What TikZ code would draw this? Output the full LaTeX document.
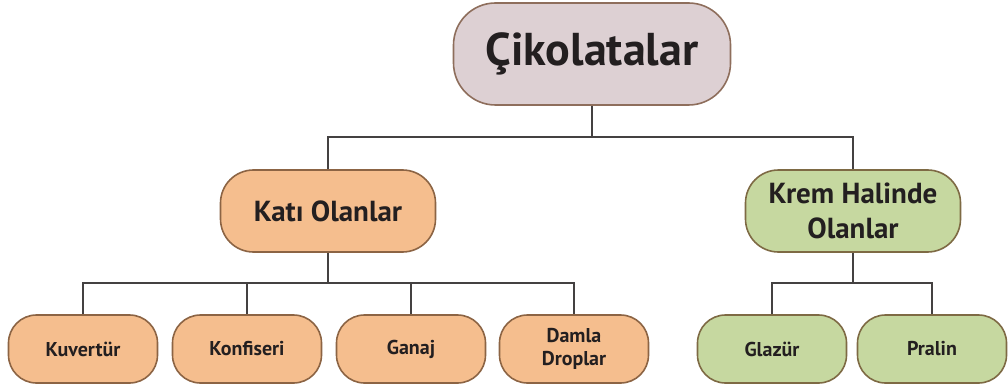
\documentclass[tikz,border=0pt]{standalone}
\usepackage{fontspec}
\setmainfont{PT Sans}
\usepackage{tikz}
\usetikzlibrary{positioning}
\definecolor{topfill}{HTML}{DDD0D3}
\definecolor{topdraw}{HTML}{8E6E5C}
\definecolor{solidfill}{HTML}{F5BE8E}
\definecolor{soliddraw}{HTML}{8C6444}
\definecolor{creamfill}{HTML}{C6D8A0}
\definecolor{creamdraw}{HTML}{7E6A44}
\definecolor{inkcol}{HTML}{231F20}

\begin{document}
\begin{tikzpicture}[x=1pt, y=1pt, line width=1.6pt, font=\bfseries, text=inkcol]
\tikzstyle{every node}=[align=center, inner sep=2pt]
\tikzstyle{rootbox}=[draw=topdraw, fill=topfill, rounded corners=42pt,
                    minimum width=277pt, minimum height=102pt, font=\bfseries\fontsize{46}{50}\selectfont]
\tikzstyle{groupbox}=[rounded corners=33pt, minimum width=215pt, minimum height=82pt,
                    font=\bfseries\fontsize{29}{35}\selectfont]
\tikzstyle{leafbox}=[rounded corners=28pt, minimum width=149pt, minimum height=68pt,
                    font=\bfseries\fontsize{20}{23}\selectfont]
\tikzstyle{solid}=[draw=soliddraw, fill=solidfill]
\tikzstyle{cream}=[draw=creamdraw, fill=creamfill]
\tikzstyle{link}=[draw=inkcol!85, line width=1.5pt]
  \useasboundingbox (0,0) rectangle (1008,-390);
  % levels
  \node[rootbox] (root) at (592,-54) {Çikolatalar};
  \node[groupbox, solid] (kati) at (328,-211) {Katı Olanlar};
  \node[groupbox, cream] (krem) at (853,-211) {Krem Halinde\\Olanlar};
  \node[leafbox, solid] (kuvertur) at (83,-349) {Kuvertür};
  \node[leafbox, solid] (konfiseri) at (247,-349) {Konfiseri};
  \node[leafbox, solid] (ganaj) at (411,-349) {Ganaj};
  \node[leafbox, solid] (damla) at (574,-349) {Damla\\Droplar};
  \node[leafbox, cream] (glazur) at (772,-349) {Glazür};
  \node[leafbox, cream] (pralin) at (932,-349) {Pralin};
  % joints
  \coordinate (jroot) at (592,-137);
  \coordinate (jkati) at (328,-283);
  \coordinate (jkrem) at (853,-283);
  \path[link] (root.south) -- (jroot);
  \path[link] (kati.north) |- (jroot) -| (krem.north);
  \path[link] (kati.south) -- (jkati);
  \path[link] (kuvertur.north) |- (jkati) -| (damla.north);
  \path[link] (konfiseri.north) -- (konfiseri.north |- jkati);
  \path[link] (ganaj.north) -- (ganaj.north |- jkati);
  \path[link] (krem.south) -- (jkrem);
  \path[link] (glazur.north) |- (jkrem) -| (pralin.north);
\end{tikzpicture}
\end{document}
